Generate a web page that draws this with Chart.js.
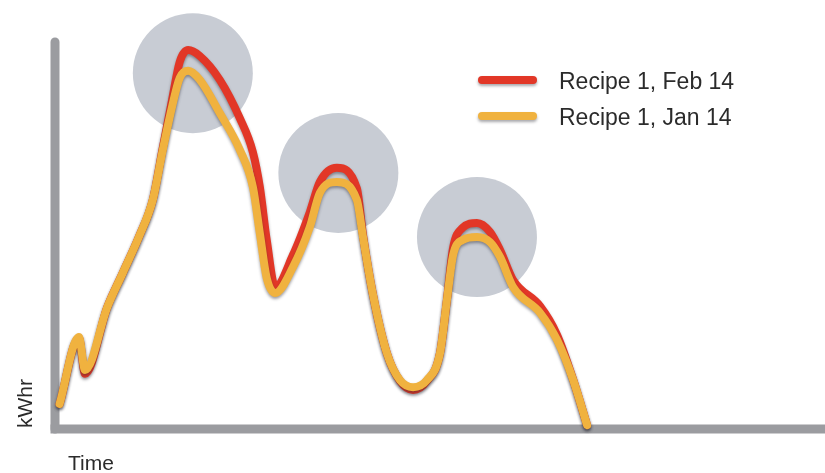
<!DOCTYPE html>
<html>
<head>
<meta charset="utf-8">
<script src="https://cdn.jsdelivr.net/npm/chart.js@4.4.1/dist/chart.umd.min.js"></script>
<style>
  html, body { margin: 0; padding: 0; background: #ffffff; }
  #wrap { width: 825px; height: 473px; position: relative; }
</style>
</head>
<body>
<div id="wrap"><canvas id="energy" width="825" height="473"></canvas></div>
<script>
// Sample times (minutes into the batch) shared by both runs
const timeMin = [0.6, 3.1, 3.9, 6.8, 8.8, 11.0, 12.7, 14.0, 15.2, 16.2, 17.3, 18.8, 21.4, 24.0, 25.7, 26.6, 27.5, 28.6, 30.9, 33.1, 34.4, 36.6, 39.2, 40.0, 41.3, 43.1, 44.8, 46.5, 48.3, 50.0, 50.9, 51.7, 52.9, 54.8, 56.5, 57.8, 59.5, 63.0, 65.2, 67.3, 69.1];

// Energy draw, kWhr
const febKwh = [6.4, 23.3, 14.1, 31.2, 39.9, 49.6, 58.6, 71.9, 84.1, 93.9, 96.9, 95.4, 89.3, 79.5, 70.8, 61.9, 48.3, 36.3, 44.5, 55.5, 63.2, 66.8, 61.6, 49.6, 34.3, 19.4, 12.3, 10.0, 12.3, 19.4, 33.0, 46.3, 51.4, 52.7, 50.4, 45.8, 38.1, 31.4, 24.1, 12.6, 1.0];
const janKwh = [6.4, 23.5, 15.1, 31.2, 39.9, 49.6, 58.6, 71.4, 82.4, 89.8, 91.6, 89.3, 80.8, 71.4, 61.9, 50.1, 38.6, 34.8, 41.4, 51.7, 60.4, 63.2, 58.6, 49.1, 34.3, 19.4, 12.5, 10.7, 12.5, 19.4, 33.0, 44.5, 48.3, 49.1, 47.8, 44.0, 36.3, 29.7, 22.8, 12.5, 1.0];

const seriesLabels = ['Recipe 1, Feb 14', 'Recipe 1, Jan 14'];

// Peak regions highlighted behind the curves
const peakTime = [17.9, 36.8, 54.8];
const peakKwh = [91.0, 65.5, 49.1];

const axisTitles = { x: 'Time', y: 'kWhr' };

const RED = '#e23727';
const ORANGE = '#f0b23f';
const AXIS = '#9b9ca0';
const HALO = '#c8ccd4';
const TEXT = '#2b2b2b';
const FONT = '"Liberation Sans", Arial, Helvetica, sans-serif';

const toPoints = (ys) => timeMin.map((t, i) => ({ x: t, y: ys[i] }));

const decor = {
  id: 'decor',
  beforeDatasetsDraw(chart) {
    const { ctx, chartArea: a, scales: { x, y } } = chart;
    ctx.save();
    // highlight discs
    ctx.fillStyle = HALO;
    peakTime.forEach((t, i) => {
      ctx.beginPath();
      ctx.arc(x.getPixelForValue(t), y.getPixelForValue(peakKwh[i]), 60, 0, Math.PI * 2);
      ctx.fill();
    });
    // axes
    ctx.strokeStyle = AXIS;
    ctx.lineWidth = 9;
    ctx.lineCap = 'round';
    ctx.beginPath();
    ctx.moveTo(a.left, a.top + 4);
    ctx.lineTo(a.left, a.bottom);
    ctx.stroke();
    ctx.lineCap = 'butt';
    ctx.beginPath();
    ctx.moveTo(a.left - 4.5, a.bottom);
    ctx.lineTo(a.right, a.bottom);
    ctx.stroke();
    // axis titles
    ctx.fillStyle = TEXT;
    ctx.font = '21px ' + FONT;
    ctx.textBaseline = 'alphabetic';
    ctx.textAlign = 'left';
    ctx.fillText(axisTitles.x, 68, 470);
    ctx.translate(32, 428);
    ctx.rotate(-Math.PI / 2);
    ctx.fillText(axisTitles.y, 0, 0);
    ctx.restore();
  },
  beforeDatasetDraw(chart) {
    const ctx = chart.ctx;
    ctx.save();
    ctx.shadowColor = 'rgba(40,40,50,0.45)';
    ctx.shadowBlur = 3;
    ctx.shadowOffsetY = 2;
  },
  afterDatasetDraw(chart) {
    chart.ctx.restore();
  },
  afterDatasetsDraw(chart) {
    const ctx = chart.ctx;
    const colors = [RED, ORANGE];
    const rows = [80, 116];
    ctx.save();
    seriesLabels.forEach((label, i) => {
      ctx.save();
      ctx.shadowColor = 'rgba(40,40,50,0.4)';
      ctx.shadowBlur = 3;
      ctx.shadowOffsetY = 2;
      ctx.strokeStyle = colors[i];
      ctx.lineWidth = 8;
      ctx.lineCap = 'round';
      ctx.beginPath();
      ctx.moveTo(482, rows[i]);
      ctx.lineTo(533, rows[i]);
      ctx.stroke();
      ctx.restore();
      ctx.fillStyle = TEXT;
      ctx.font = '23px ' + FONT;
      ctx.textBaseline = 'alphabetic';
      ctx.textAlign = 'left';
      ctx.fillText(label, 559, rows[i] + 8.5);
    });
    ctx.restore();
  }
};

new Chart(document.getElementById('energy'), {
  type: 'line',
  data: {
    datasets: [
      {
        label: seriesLabels[0],
        data: toPoints(febKwh),
        borderColor: RED,
        order: 1
      },
      {
        label: seriesLabels[1],
        data: toPoints(janKwh),
        borderColor: ORANGE,
        order: 0
      }
    ]
  },
  options: {
    responsive: false,
    animation: false,
    events: [],
    layout: { padding: { left: 55, right: 0, top: 38, bottom: 44 } },
    datasets: {
      line: {
        borderWidth: 8,
        borderCapStyle: 'round',
        borderJoinStyle: 'round',
        cubicInterpolationMode: 'monotone',
        pointRadius: 0,
        fill: false,
        clip: false
      }
    },
    scales: {
      x: { type: 'linear', min: 0, max: 100, display: false },
      y: { min: 0, max: 100, display: false }
    },
    plugins: {
      legend: { display: false },
      tooltip: { enabled: false }
    }
  },
  plugins: [decor]
});
</script>
</body>
</html>
